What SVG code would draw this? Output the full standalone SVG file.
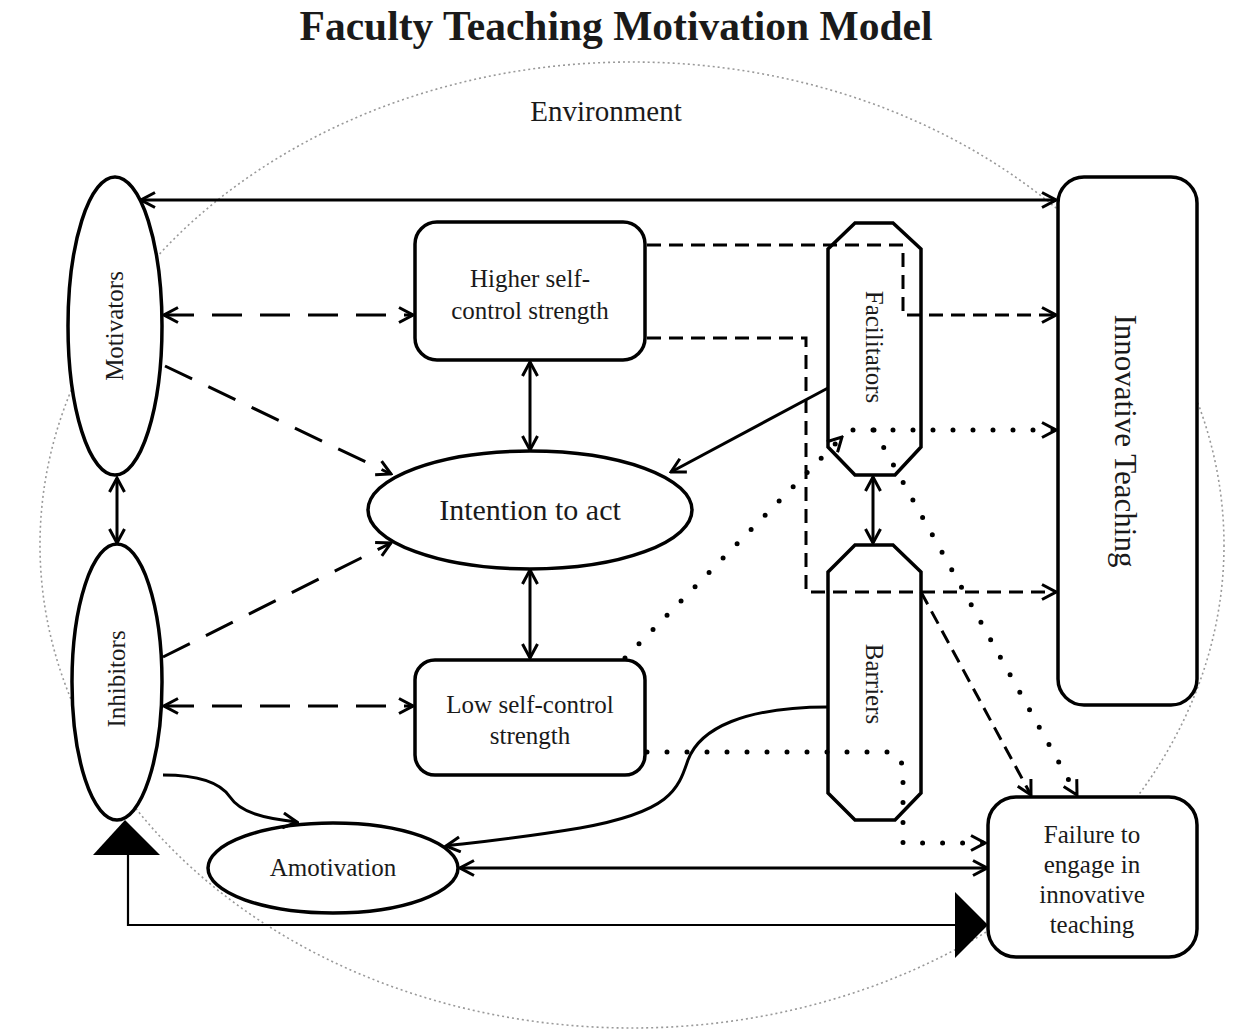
<svg xmlns="http://www.w3.org/2000/svg" width="1248" height="1030" viewBox="0 0 1248 1030">
<style>
text{font-family:"Liberation Serif","Times New Roman",serif;fill:#1a1a1a;}
.t{font-size:25px;text-anchor:middle;}
.node{fill:#fff;stroke:#000;stroke-width:3.5;}
.c{fill:none;stroke:#000;stroke-width:3;}
.dl{stroke-dasharray:30 18;}
.ds{stroke-dasharray:14 8;}
.dt{stroke-dasharray:0 20;stroke-linecap:round;stroke-width:5;}
.thin{fill:none;stroke:#000;stroke-width:2.2;}
</style>
<defs>
<marker id="a" viewBox="0 0 18 18" refX="16" refY="9" markerWidth="18" markerHeight="18" markerUnits="userSpaceOnUse" orient="auto-start-reverse">
<path d="M2,1.5 L16,9 L2,16.5" fill="none" stroke="#000" stroke-width="3"/>
</marker>
</defs>
<rect width="1248" height="1030" fill="#fff"/>
<text x="616" y="40" style="font-size:41.5px;font-weight:bold;text-anchor:middle;">Faculty Teaching Motivation Model</text>
<g id="environment">
<ellipse cx="632" cy="545" rx="592" ry="483" fill="none" stroke="#999" stroke-width="1.6" stroke-dasharray="2 3"/>
<text x="606" y="121" style="font-size:29px;text-anchor:middle;">Environment</text>
</g>
<g id="motivators">
<ellipse class="node" cx="115" cy="326" rx="47" ry="149"/>
<text class="t" x="115" y="326" dy="8" transform="rotate(-90 115 326)">Motivators</text>
</g>
<g id="inhibitors">
<ellipse class="node" cx="117" cy="682" rx="45" ry="138"/>
<text class="t" x="117" y="679" dy="8" transform="rotate(-90 117 679)">Inhibitors</text>
</g>
<g id="higher">
<rect class="node" x="415" y="222" width="230" height="138" rx="22"/>
<text class="t" x="530" y="287">Higher self-</text>
<text class="t" x="530" y="319">control strength</text>
</g>
<g id="intention">
<ellipse class="node" cx="530" cy="510" rx="162" ry="59"/>
<text x="530" y="520" style="font-size:30px;text-anchor:middle;">Intention to act</text>
</g>
<g id="low">
<rect class="node" x="415" y="660" width="230" height="115" rx="20"/>
<text class="t" x="530" y="713">Low self-control</text>
<text class="t" x="530" y="744">strength</text>
</g>
<g id="facilitators">
<polygon class="node" points="855,223 893,223 921,249 921,447 895,475 855,475 828,447 828,249"/>
<text class="t" x="874" y="347" dy="8" transform="rotate(90 874 347)">Facilitators</text>
</g>
<g id="barriers">
<polygon class="node" points="855,545 893,545 921,572 921,793 895,820 855,820 828,793 828,572"/>
<text class="t" x="874" y="684" dy="8" transform="rotate(90 874 684)">Barriers</text>
</g>
<g id="innovative">
<rect class="node" x="1058" y="177" width="139" height="528" rx="26"/>
<text x="1125" y="441" dy="10" style="font-size:31px;text-anchor:middle;" transform="rotate(90 1125 441)">Innovative Teaching</text>
</g>
<g id="failure">
<rect class="node" x="988" y="797" width="209" height="160" rx="28"/>
<text class="t" x="1092" y="843">Failure to</text>
<text class="t" x="1092" y="873">engage in</text>
<text class="t" x="1092" y="903">innovative</text>
<text class="t" x="1092" y="933">teaching</text>
</g>
<g id="amotivation">
<ellipse class="node" cx="333" cy="868" rx="125" ry="45"/>
<text class="t" x="333" y="876">Amotivation</text>
</g>
<g id="connectors">
<path class="c" d="M141,200 L1056,200" marker-start="url(#a)" marker-end="url(#a)"/>
<path class="c dl" d="M164,315 L413,315" marker-start="url(#a)" marker-end="url(#a)"/>
<path class="c dl" d="M165,366 L391,474" marker-end="url(#a)"/>
<path class="c dl" d="M163,657 L391,543" marker-end="url(#a)"/>
<path class="c dl" d="M164,706 L413,706" marker-start="url(#a)" marker-end="url(#a)"/>
<path class="c" d="M117,478 L117,543" marker-start="url(#a)" marker-end="url(#a)"/>
<path class="c" d="M530,362 L530,450" marker-start="url(#a)" marker-end="url(#a)"/>
<path class="c" d="M530,570 L530,658" marker-start="url(#a)" marker-end="url(#a)"/>
<path class="c" d="M873,477 L873,543" marker-start="url(#a)" marker-end="url(#a)"/>
<path class="c" d="M828,388 L671,472" marker-end="url(#a)"/>
<path class="c ds" d="M647,245 L903,245 L903,315 L1056,315" marker-end="url(#a)"/>
<path class="c ds" d="M647,338 L806,338 L806,592 L1056,592" marker-end="url(#a)"/>
<path class="c ds" d="M921,592 L1031,795" marker-end="url(#a)"/>
<path class="c dt" d="M853,430 L1056,430" marker-end="url(#a)"/>
<path class="c dt" d="M874,430 L1077,795" marker-end="url(#a)"/>
<path class="c dt" d="M625,658 L842,437" marker-end="url(#a)"/>
<path class="c dt" d="M647,752 L893,752 L903,765 L903,843 L985,843" marker-end="url(#a)"/>
<path class="c" d="M163,775 C205,775 222,785 230,797 C240,812 262,818 297,822" marker-end="url(#a)"/>
<path class="c" d="M828,707 C745,707 700,728 688,760 C678,790 670,812 580,828 C520,838 480,842 446,846" marker-end="url(#a)"/>
<path class="c" d="M460,868 L987,868" marker-start="url(#a)" marker-end="url(#a)"/>
<path class="thin" d="M955,925 L128,925 L128,853"/>
<polygon points="125,820 93,855 160,855" fill="#000"/>
<polygon points="955,892 988,925 955,958" fill="#000"/>
</g>
</svg>
